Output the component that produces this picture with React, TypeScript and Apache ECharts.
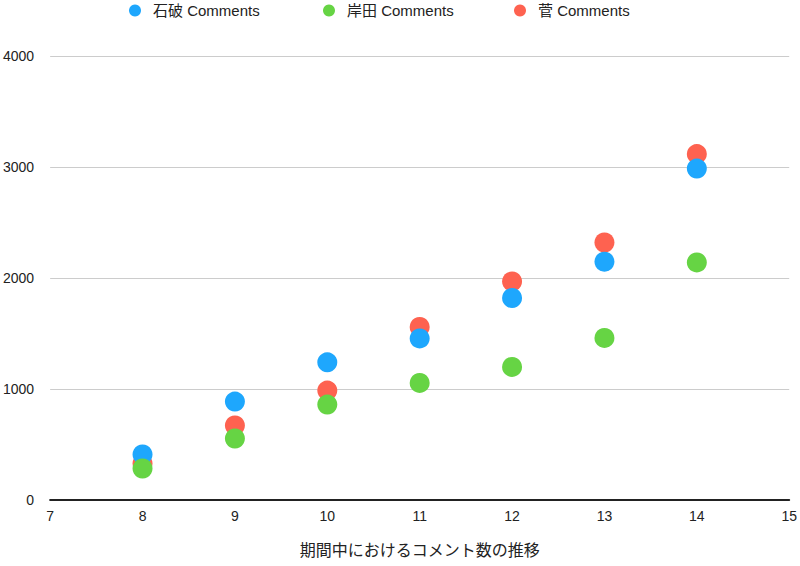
import React, { useEffect, useRef } from "react";
import * as echarts from "echarts";

const periods = [8, 9, 10, 11, 12, 13, 14];
const ishibaComments = [410, 887, 1240, 1456, 1820, 2147, 2986];
const kishidaComments = [284, 554, 860, 1055, 1199, 1460, 2140];
const sugaComments = [329, 671, 986, 1559, 1969, 2320, 3116];
const seriesNames = ["石破 Comments", "岸田 Comments", "菅 Comments"];
const colors = ["#1ea7fd", "#66d444", "#fe6250"];
const xAxisTitle = "期間中におけるコメント数の推移";

const FONT = "'Liberation Sans', Arial, 'Noto Sans CJK JP', sans-serif";

export default function App() {
  const ref = useRef<HTMLDivElement>(null);
  useEffect(() => {
    if (!ref.current) return;
    const chart = echarts.init(ref.current, undefined, { renderer: "svg" });
    const values = [ishibaComments, kishidaComments, sugaComments];
    const order = [2, 0, 1];
    const legendLefts = [124, 318, 509];
    chart.setOption({
      animation: false,
      backgroundColor: "#ffffff",
      textStyle: { fontFamily: FONT },
      legend: seriesNames.map((n, i) => ({
        data: [n],
        left: legendLefts[i],
        top: 0,
        padding: [3, 5, 3, 5],
        icon: "circle",
        itemWidth: 26,
        itemHeight: 12,
        selectedMode: false,
        textStyle: { fontSize: 15, color: "#222", fontFamily: FONT },
      })),
      grid: { left: 49, right: 8, top: 56, bottom: 66, containLabel: false },
      xAxis: {
        type: "value",
        min: 7,
        max: 15,
        interval: 1,
        name: xAxisTitle,
        nameLocation: "middle",
        nameGap: 42,
        nameTextStyle: { fontSize: 16, color: "#222", fontFamily: FONT },
        axisLine: { show: true, onZero: false, lineStyle: { color: "#222", width: 2 } },
        axisTick: { show: false },
        splitLine: { show: false },
        axisLabel: { fontSize: 14, color: "#222", margin: 9, fontFamily: FONT },
      },
      yAxis: {
        type: "value",
        min: 0,
        max: 4000,
        interval: 1000,
        axisLine: { show: false },
        axisTick: { show: false },
        splitLine: { lineStyle: { color: "#cccccc", width: 1 } },
        axisLabel: {
          fontSize: 14,
          color: "#222",
          margin: 16,
          fontFamily: FONT,
          formatter: (v: number) => String(v),
        },
      },
      series: order.map((i) => ({
        name: seriesNames[i],
        type: "scatter",
        symbol: "circle",
        symbolSize: 20,
        itemStyle: { color: colors[i], opacity: 1 },
        data: periods.map((p, k) => [p, values[i][k]]),
      })),
    });
    return () => chart.dispose();
  }, []);
  return <div ref={ref} style={{ width: 800, height: 566, position: "absolute", left: 0, top: 0 }} />;
}
